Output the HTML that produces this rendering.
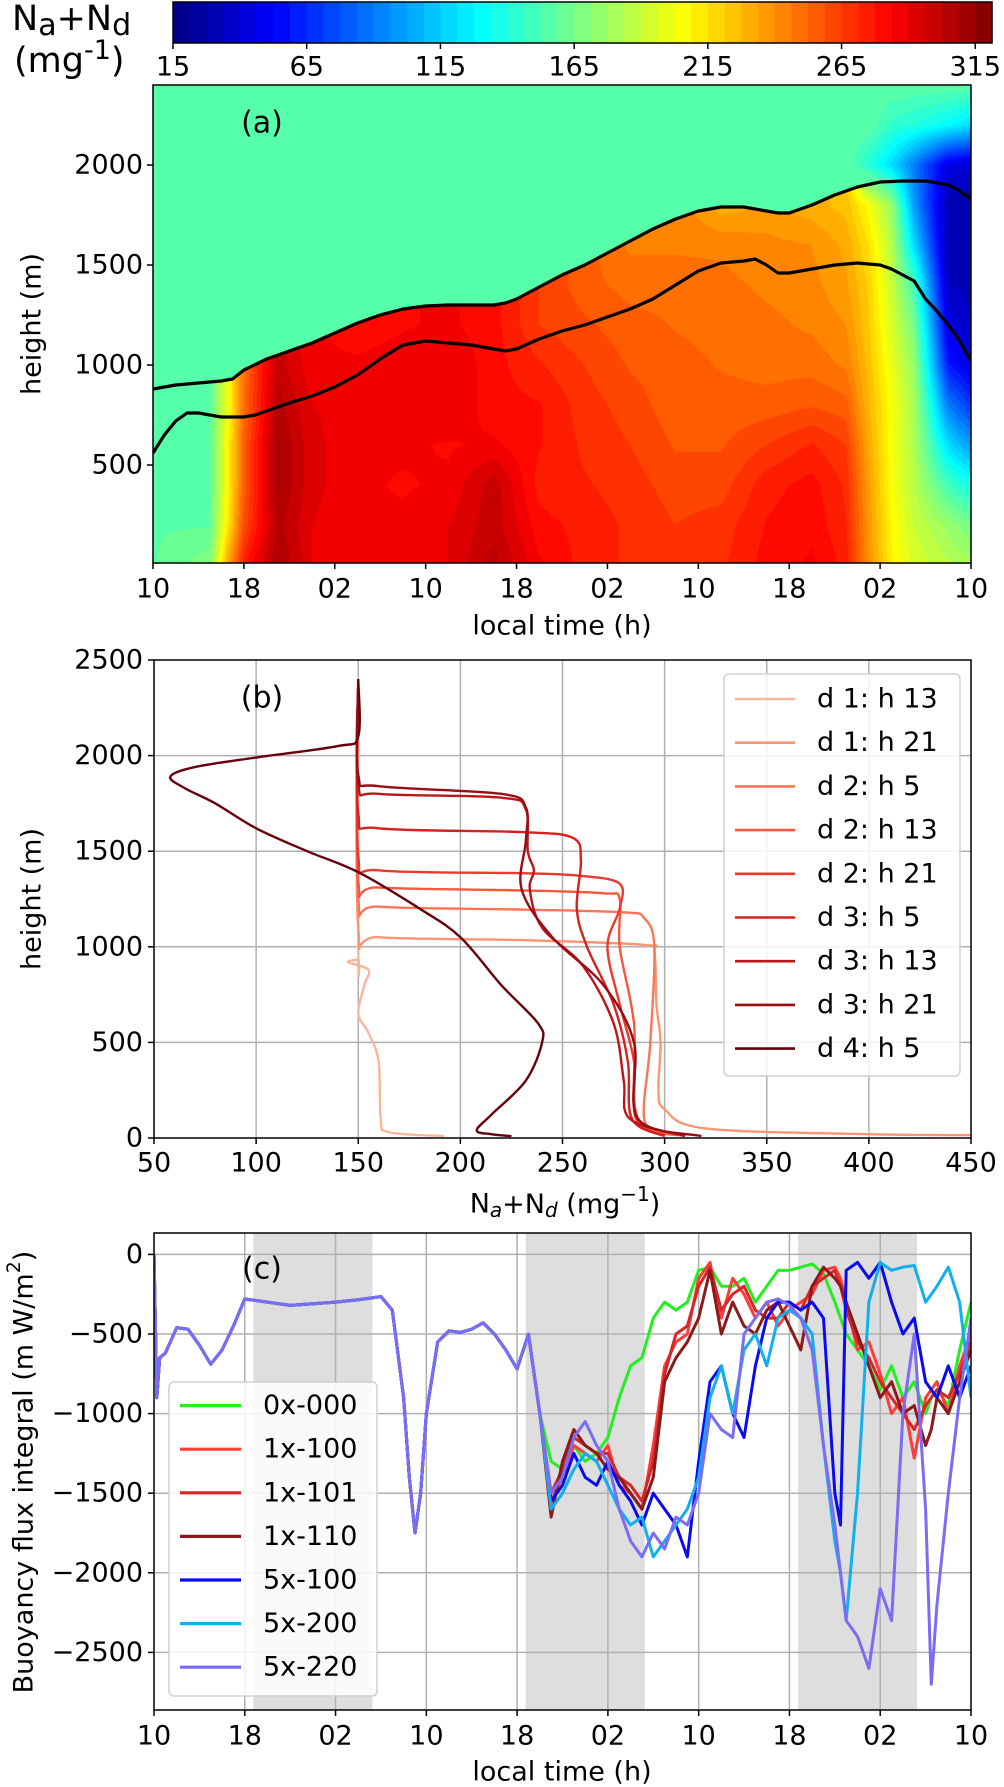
<!DOCTYPE html>
<html><head><meta charset="utf-8">
<style>
html,body{margin:0;padding:0;background:#fff;}
#wrap{position:relative;width:1004px;height:1787px;overflow:hidden;}
#heat{position:absolute;left:153px;top:85px;}
svg{position:absolute;left:0;top:0;}
text{font-family:"DejaVu Sans","Liberation Sans",sans-serif;fill:#000;}
</style></head>
<body>
<div id="wrap">
<canvas id="heat" width="818" height="478"></canvas>
<svg id="svg" width="1004" height="1787" viewBox="0 0 1004 1787"></svg>
</div>
<script>
// ---------- Panel (a) data ----------
const cbarTicks=[15,65,115,165,215,265,315];
const hmTimes=[0,5,6.5,8,11,14,18,22,26,30,34,38,42,46,50,54,58,61,63,65,67,70,72];
const hmHeights=[0,200,400,600,800,1000,1200,1400,1600,1800,2000,2200,2400];
const N=null;
const hmCol0=[158,158,158,158,158,N,N,N,N,N,N,N,N];
const hmCol1=[170,158,158,158,158,N,N,N,N,N,N,N,N];
const hmCol2=[230,210,205,205,200,N,N,N,N,N,N,N,N];
const hmCol3=[275,260,255,255,250,N,N,N,N,N,N,N,N];
const hmCol4=[310,305,310,310,305,300,N,N,N,N,N,N,N];
const hmCol5=[290,290,292,292,290,285,N,N,N,N,N,N,N];
const hmCol6=[285,285,285,285,288,285,280,N,N,N,N,N,N];
const hmCol7=[285,285,283,285,288,287,283,N,N,N,N,N,N];
const hmCol8=[290,290,285,283,290,290,285,N,N,N,N,N,N];
const hmCol9=[305,300,300,285,280,280,280,N,N,N,N,N,N];
const hmCol10=[285,280,275,278,278,272,265,N,N,N,N,N,N];
const hmCol11=[275,275,272,270,268,265,260,255,N,N,N,N,N];
const hmCol12=[270,270,268,265,262,258,255,250,245,N,N,N,N];
const hmCol13=[268,265,262,258,255,255,252,250,245,N,N,N,N];
const hmCol14=[270,268,262,258,255,252,250,248,245,230,N,N,N];
const hmCol15=[280,278,275,265,255,250,248,245,242,235,N,N,N];
const hmCol16=[285,282,280,272,258,250,245,242,240,230,N,N,N];
const hmCol17=[275,272,270,265,255,245,240,235,232,225,N,N,N];
const hmCol18=[240,238,236,232,228,225,222,220,215,205,140,158,158];
const hmCol19=[210,208,205,205,205,200,195,190,185,175,120,145,158];
const hmCol20=[195,190,185,182,180,175,165,150,120,100,90,140,158];
const hmCol21=[185,175,150,120,90,60,45,35,30,30,45,130,158];
const hmCol22=[180,165,135,100,70,45,35,30,28,30,40,120,158];
const hmCols=[hmCol0,hmCol1,hmCol2,hmCol3,hmCol4,hmCol5,hmCol6,hmCol7,hmCol8,hmCol9,hmCol10,hmCol11,hmCol12,hmCol13,hmCol14,hmCol15,hmCol16,hmCol17,hmCol18,hmCol19,hmCol20,hmCol21,hmCol22];
const upT=[0,2,4,6,7,8,10,12,14,16,18,20,22,24,26,28,30,31,32,34,36,38,40,42,44,46,48,50,52,54,55,56,58,60,62,64,66,68,70,71,72];
const upH=[880,900,910,920,930,975,1030,1070,1110,1160,1210,1250,1280,1295,1300,1300,1300,1310,1330,1390,1450,1500,1560,1620,1680,1730,1770,1790,1790,1770,1760,1760,1800,1850,1890,1915,1920,1920,1900,1870,1830];
const loT=[0,1,2,3,4,6,8,9,10,12,14,16,18,20,22,24,26,28,30,31,32,34,36,38,40,42,44,46,48,50,52,53,54,55,56,58,60,62,64,65,66,67,68,69,70,71,72];
const loH=[560,650,720,760,760,740,740,750,770,810,845,890,950,1030,1100,1120,1110,1100,1080,1070,1080,1130,1170,1200,1240,1280,1330,1400,1470,1510,1520,1530,1500,1460,1460,1480,1500,1510,1500,1480,1450,1420,1330,1270,1200,1120,1020];
const timeLabels=['10','18','02','10','18','02','10','18','02','10'];
const timeTicks=[0,8,16,24,32,40,48,56,64,72];
const aYTicks=[500,1000,1500,2000];

// ---------- Panel (b) data ----------
const bXTicks=[50,100,150,200,250,300,350,400,450];
const bYTicks=[0,500,1000,1500,2000,2500];
const bLabels=['d 1: h 13','d 1: h 21','d 2: h 5','d 2: h 13','d 2: h 21','d 3: h 5','d 3: h 13','d 3: h 21','d 4: h 5'];
const bColors=['#fcb59c','#fc9574','#fb7656','#f6583e','#ea3a2c','#d52221','#bb151a','#980c13','#67000d'];
const p1v=[150,150,150,145,155,153,150,155,160,161,165,192];
const p1h=[2400,960,935,920,880,800,650,550,400,100,30,10];
const p2v=[150,150,160,230,290,295,296,298,297,300,320,400,450];
const p2h=[2400,1100,1050,1035,1010,970,700,500,250,150,50,20,15];
const p3v=[150,150,160,230,280,290,295,293,290,300];
const p3h=[2400,1260,1210,1195,1180,1150,1000,500,100,20];
const p4v=[150,150,160,230,270,278,278,285,287,310];
const p4h=[2400,1350,1310,1295,1280,1250,1000,600,100,10];
const p5v=[150,150,160,230,260,278,278,272,278,285,286,300];
const p5h=[2400,1480,1400,1385,1370,1330,1200,1000,700,400,100,10];
const p6v=[150,150,160,230,255,259,257,262,275,282,284,300];
const p6h=[2400,1700,1620,1600,1570,1450,1200,1000,700,400,100,10];
const p7v=[150,150,160,220,232,233,236,234,240,260,275,280,283,310];
const p7h=[2400,1850,1800,1780,1720,1500,1400,1300,1100,900,600,300,100,10];
const p8v=[150,150,160,220,232,232,230,245,270,285,287,318];
const p8h=[2400,1900,1840,1800,1730,1550,1300,1050,800,500,100,10];
const p9v=[150,150,140,100,70,58,65,80,100,125,150,180,200,220,238,240,232,215,208,215,225];
const p9h=[2400,2100,2050,1990,1940,1890,1830,1750,1620,1500,1390,1200,1050,800,600,500,300,120,40,20,10];
const profV=[p1v,p2v,p3v,p4v,p5v,p6v,p7v,p8v,p9v];
const profH=[p1h,p2h,p3h,p4h,p5h,p6h,p7h,p8h,p9h];

// ---------- Panel (c) data ----------
const cYTicks=[0,-500,-1000,-1500,-2000,-2500];
const cShadeStart=[8.75,32.75,56.75];
const cShadeEnd=[19.25,43.25,67.25];
const cLabels=['0x-000','1x-100','1x-101','1x-110','5x-100','5x-200','5x-220'];
const cColors=['#22ee22','#ff3c3c','#d42828','#8b1a1a','#0a0af0','#10b0ee','#7b6cf6'];
const baseHours=[0,0.25,0.5,1,2,3,4,5,6,7,8,10,12,14,16,18,20,21,22,22.5,23,23.5,24,25,26,27,28,29,30,31,32,33,34];
const baseVals=[0,-900,-650,-620,-460,-470,-570,-690,-600,-450,-280,-300,-320,-310,-300,-285,-265,-350,-900,-1400,-1750,-1500,-1000,-550,-480,-490,-470,-430,-500,-600,-720,-500,-1000];
const tailHours=[35,36,37,38,39,40,41,42,43,44,45,46,47,48,49,50,51,52,53,54,55,56,57,58,59,60,60.5,61,62,63,64,65,66,67,68,68.5,69,70,71,72];
const s0x000=[-1300,-1350,-1200,-1300,-1250,-1150,-900,-700,-650,-400,-300,-350,-300,-100,-80,-200,-200,-150,-300,-200,-100,-100,-80,-60,-120,-300,-400,-500,-600,-700,-850,-700,-900,-800,-1000,-900,-850,-950,-600,-300];
const s1x100=[-1550,-1400,-1200,-1250,-1300,-1200,-1450,-1500,-1600,-1200,-700,-550,-500,-150,-50,-400,-150,-250,-400,-300,-450,-350,-300,-250,-100,-80,-150,-300,-600,-550,-750,-1000,-900,-1280,-900,-850,-800,-1000,-700,-500];
const s1x101=[-1500,-1350,-1150,-1200,-1250,-1250,-1400,-1450,-1550,-1300,-750,-500,-450,-200,-80,-350,-250,-200,-350,-400,-400,-300,-350,-200,-150,-100,-200,-350,-550,-650,-800,-900,-1000,-1100,-950,-900,-850,-900,-750,-550];
const s1x110=[-1650,-1300,-1100,-1200,-1250,-1350,-1400,-1500,-1600,-1400,-800,-650,-550,-400,-100,-500,-300,-450,-500,-350,-300,-450,-600,-200,-80,-150,-200,-300,-500,-700,-900,-800,-1000,-950,-1200,-1100,-900,-1000,-800,-600];
const s5x100=[-1550,-1450,-1250,-1400,-1450,-1300,-1450,-1550,-1700,-1500,-1600,-1700,-1900,-1300,-800,-700,-1000,-1150,-700,-400,-300,-300,-350,-300,-400,-1500,-1700,-100,-50,-150,-50,-300,-500,-400,-800,-850,-900,-700,-900,-700];
const s5x200=[-1600,-1500,-1350,-1250,-1300,-1450,-1600,-1700,-1650,-1900,-1800,-1700,-1600,-1400,-900,-700,-1000,-600,-500,-700,-400,-350,-400,-500,-1200,-1800,-2000,-2300,-1500,-300,-50,-100,-80,-70,-300,-250,-200,-80,-300,-900];
const s5x220=[-1500,-1400,-1150,-1050,-1200,-1300,-1600,-1800,-1900,-1750,-1850,-1650,-1700,-1500,-1000,-1100,-1150,-500,-400,-300,-280,-320,-400,-600,-1200,-1700,-2000,-2300,-2400,-2600,-2100,-2300,-1000,-500,-1600,-2700,-2200,-1500,-900,-400];
const cSeries=[s0x000,s1x100,s1x101,s1x110,s5x100,s5x200,s5x220];

// ---------- axis functions ----------
const xA=t=>153+t*(818/72), yA=h=>565-h*0.2;
const xB=v=>154+(v-50)*(817/400), yB=h=>1138-h*(478/2500);
const xC=t=>154+t*(817/72), yC=v=>1254.4-v*0.1592;
const cbX=v=>173+(v-15)*(819/306.25);

const NS='http://www.w3.org/2000/svg';
const svg=document.getElementById('svg');
function mk(tag,attrs,parent){const e=document.createElementNS(NS,tag);for(const k in attrs)e.setAttribute(k,attrs[k]);(parent||svg).appendChild(e);return e;}
function txt(x,y,s,size,anchor,parent){const e=mk('text',{x:x,y:y,'font-size':size,'text-anchor':anchor||'middle','dominant-baseline':'central'},parent);e.textContent=s;return e;}
function lerp(xs,ys,x){if(x<=xs[0])return ys[0];for(let i=0;i<xs.length-1;i++){if(x<=xs[i+1]){const f=(x-xs[i])/(xs[i+1]-xs[i]);return ys[i]+f*(ys[i+1]-ys[i]);}}return ys[ys.length-1];}
function jet(x){const c=v=>Math.max(0,Math.min(1,v));return [c(Math.min(4*x-1.5,-4*x+4.5)),c(Math.min(4*x-0.5,-4*x+3.5)),c(Math.min(4*x+0.5,-4*x+2.5))];}
const NLEV=49;
function levColor(v){let i=Math.floor((v-15)/6.25);i=Math.max(0,Math.min(NLEV-1,i));return jet((i+0.5)/NLEV);}
function rgb(c){return 'rgb('+Math.round(c[0]*255)+','+Math.round(c[1]*255)+','+Math.round(c[2]*255)+')';}
function smoothPath(pts){let d='M'+pts[0][0]+','+pts[0][1];for(let i=0;i<pts.length-1;i++){const p0=pts[Math.max(0,i-1)],p1=pts[i],p2=pts[i+1],p3=pts[Math.min(pts.length-1,i+2)];const k=1/6;d+=' C'+(p1[0]+(p2[0]-p0[0])*k)+','+(p1[1]+(p2[1]-p0[1])*k)+' '+(p2[0]-(p3[0]-p1[0])*k)+','+(p2[1]-(p3[1]-p1[1])*k)+' '+p2[0]+','+p2[1];}return d;}

// ---------- colorbar ----------
const cb=mk('g',{});


for(let i=0;i<NLEV;i++){const v0=15+i*6.25;const r=mk('rect',{x:cbX(v0),y:2,width:cbX(v0+6.25)-cbX(v0)+0.6,height:41,fill:rgb(jet((i+0.5)/NLEV))},cb);}
mk('rect',{x:173,y:2,width:819,height:41,fill:'none',stroke:'#000','stroke-width':1.5},cb);
cbarTicks.forEach(v=>{mk('line',{x1:cbX(v),x2:cbX(v),y1:43,y2:49,stroke:'#000','stroke-width':1.5},cb);const t=txt(cbX(v),67,String(v),27,'middle',cb);});
const cbl=mk('text',{x:12,y:30,'font-size':35},cb);


cbl.innerHTML='N<tspan dy="5" font-size="30">a</tspan><tspan dy="-5">+N</tspan><tspan dy="5" font-size="30">d</tspan>';
const cbl2=mk('text',{x:14,y:72,'font-size':35},cb);


cbl2.innerHTML='(mg<tspan dy="-13" font-size="27">-1</tspan><tspan dy="13">)</tspan>';

// ---------- heatmap ----------
(function(){
 const cv=document.getElementById('heat');const ctx=cv.getContext('2d');
 const W=818,H=478;const img=ctx.createImageData(W,H);
 function colVal(col,h,up){
  const hs=hmHeights;let i=Math.min(hs.length-2,Math.floor(h/200));if(i<0)i=0;
  const f=(h-hs[i])/(hs[i+1]-hs[i]);
  let a=col[i],b=col[i+1];
  if(h<=up){
   let k=i;while(a===null&&k>0){k--;a=col[k];}
   if(a===null)a=158;
   if(b===null)b=a;
  }else{
   if(a===null)a=158;if(b===null)b=158;
  }
  return a+f*(b-a);
 }
 for(let px=0;px<W;px++){
  const t=(px+0.5)/W*72;
  let j=0;while(j<hmTimes.length-2&&t>hmTimes[j+1])j++;
  const fj=Math.max(0,Math.min(1,(t-hmTimes[j])/(hmTimes[j+1]-hmTimes[j])));
  const up=lerp(upT,upH,t);
  for(let py=0;py<H;py++){
   const h=(565-(85+py+0.5))/0.2;
   let v=(1-fj)*colVal(hmCols[j],h,up)+fj*colVal(hmCols[j+1],h,up);
   if(h>up)v=Math.min(v,158);
   const c=levColor(v);const k=(py*W+px)*4;
   img.data[k]=c[0]*255;img.data[k+1]=c[1]*255;img.data[k+2]=c[2]*255;img.data[k+3]=255;
  }
 }
 ctx.putImageData(img,0,0);
})();

// ---------- panel (a) overlays ----------
const pa=mk('g',{});


mk('clipPath',{id:'clipA'});
mk('rect',{x:153,y:85,width:818,height:478},document.getElementById('clipA'));
const upLine=mk('polyline',{points:upT.map((t,i)=>xA(t)+','+yA(upH[i])).join(' '),fill:'none',stroke:'#000','stroke-width':3.2,'stroke-linejoin':'round','clip-path':'url(#clipA)'},pa);


const loLine=mk('polyline',{points:loT.map((t,i)=>xA(t)+','+yA(loH[i])).join(' '),fill:'none',stroke:'#000','stroke-width':3.2,'stroke-linejoin':'round','clip-path':'url(#clipA)'},pa);


mk('rect',{x:153,y:85,width:818,height:478,fill:'none',stroke:'#000','stroke-width':1.5},pa);
aYTicks.forEach(v=>{mk('line',{x1:147,x2:153,y1:yA(v),y2:yA(v),stroke:'#000','stroke-width':1.5},pa);const t=txt(143,yA(v),String(v),27,'end',pa);});
timeTicks.forEach((h,i)=>{mk('line',{x1:xA(h),x2:xA(h),y1:563,y2:569,stroke:'#000','stroke-width':1.5},pa);const t=txt(xA(h),589,timeLabels[i],27,'middle',pa);});
let e;
e=txt(562,626,'local time (h)',27,'middle',pa);
e=txt(32,324,'height (m)',27,'middle',pa);e.setAttribute('transform','rotate(-90 32 324)');
e=txt(262,123,'(a)',30,'middle',pa);

// ---------- panel (b) ----------
const pb=mk('g',{});


bXTicks.forEach(v=>{if(v>50&&v<450)mk('line',{x1:xB(v),x2:xB(v),y1:660,y2:1138,stroke:'#b0b0b0','stroke-width':1.5},pb);});
bYTicks.forEach(v=>{if(v>0&&v<2500)mk('line',{x1:154,x2:971,y1:yB(v),y2:yB(v),stroke:'#b0b0b0','stroke-width':1.5},pb);});
mk('clipPath',{id:'clipB'});
mk('rect',{x:154,y:660,width:817,height:478},document.getElementById('clipB'));
profV.forEach((vs,k)=>{const hs=profH[k];const l=mk('path',{d:smoothPath(vs.map((v,i)=>[xB(v),yB(hs[i])])),fill:'none',stroke:bColors[k],'stroke-width':2.4,'stroke-linejoin':'round','clip-path':'url(#clipB)'},pb);});
mk('rect',{x:154,y:660,width:817,height:478,fill:'none',stroke:'#000','stroke-width':1.5},pb);
bYTicks.forEach(v=>{mk('line',{x1:148,x2:154,y1:yB(v),y2:yB(v),stroke:'#000','stroke-width':1.5},pb);const t=txt(143,yB(v),String(v),27,'end',pb);});
bXTicks.forEach(v=>{mk('line',{x1:xB(v),x2:xB(v),y1:1138,y2:1144,stroke:'#000','stroke-width':1.5},pb);const t=txt(xB(v),1163,String(v),27,'middle',pb);});
e=mk('text',{x:565,y:1204,'font-size':27,'text-anchor':'middle','dominant-baseline':'central'},pb);
e.innerHTML='N<tspan dy="6" font-size="20" font-style="italic">a</tspan><tspan dy="-6">+N</tspan><tspan dy="6" font-size="20" font-style="italic">d</tspan><tspan dy="-6"> (mg</tspan><tspan dy="-10" font-size="20">−1</tspan><tspan dy="10">)</tspan>';


e=txt(32,899,'height (m)',27,'middle',pb);e.setAttribute('transform','rotate(-90 32 899)');
e=txt(262,698,'(b)',30,'middle',pb);
const lb=mk('g',{},pb);


mk('rect',{x:724,y:674,width:236,height:402,rx:5,fill:'rgba(255,255,255,0.85)',stroke:'#d0d0d0','stroke-width':1.5},lb);
bLabels.forEach((s,i)=>{const y=699+i*43.7;mk('line',{x1:735,x2:795,y1:y,y2:y,stroke:bColors[i],'stroke-width':2.6},lb);const t=txt(817,y,s,27,'start',lb);});

// ---------- panel (c) ----------
const pc=mk('g',{});


cShadeStart.forEach((s,i)=>{const r=mk('rect',{x:xC(s),y:1233,width:xC(cShadeEnd[i])-xC(s),height:477,fill:'#dedede'},pc);});
timeTicks.forEach(h=>{if(h>0&&h<72)mk('line',{x1:xC(h),x2:xC(h),y1:1233,y2:1710,stroke:'#b0b0b0','stroke-width':1.5},pc);});
cYTicks.forEach(v=>{mk('line',{x1:154,x2:971,y1:yC(v),y2:yC(v),stroke:'#b0b0b0','stroke-width':1.5},pc);});
mk('clipPath',{id:'clipC'});
mk('rect',{x:154,y:1233,width:817,height:477},document.getElementById('clipC'));
cSeries.forEach((tail,k)=>{const hrs=baseHours.concat(tailHours);const vals=baseVals.concat(tail);const l=mk('polyline',{points:hrs.map((h,i)=>xC(h)+','+yC(vals[i])).join(' '),fill:'none',stroke:cColors[k],'stroke-width':3,'stroke-linejoin':'round','clip-path':'url(#clipC)'},pc);});
mk('rect',{x:154,y:1233,width:817,height:477,fill:'none',stroke:'#000','stroke-width':1.5},pc);
cYTicks.forEach(v=>{mk('line',{x1:148,x2:154,y1:yC(v),y2:yC(v),stroke:'#000','stroke-width':1.5},pc);const t=txt(143,yC(v),v<0?'−'+(-v):String(v),27,'end',pc);});
timeTicks.forEach((h,i)=>{mk('line',{x1:xC(h),x2:xC(h),y1:1710,y2:1716,stroke:'#000','stroke-width':1.5},pc);const t=txt(xC(h),1736,timeLabels[i],27,'middle',pc);});
e=txt(562,1772,'local time (h)',27,'middle',pc);
e=mk('text',{x:0,y:0,'font-size':27,'text-anchor':'middle','dominant-baseline':'central',transform:'translate(24 1472) rotate(-90)'},pc);
e.innerHTML='Buoyancy flux integral (m W/m<tspan dy="-10" font-size="19">2</tspan><tspan dy="10">)</tspan>';


e=txt(262,1269,'(c)',30,'middle',pc);
const lc=mk('g',{},pc);


mk('rect',{x:169,y:1382,width:208,height:314,rx:5,fill:'rgba(255,255,255,0.85)',stroke:'#d0d0d0','stroke-width':1.5},lc);
cLabels.forEach((s,i)=>{const y=1405.6+i*43.6;mk('line',{x1:180,x2:241,y1:y,y2:y,stroke:cColors[i],'stroke-width':3.2},lc);const t=txt(263,y,s,27,'start',lc);});
</script>
</body></html>
